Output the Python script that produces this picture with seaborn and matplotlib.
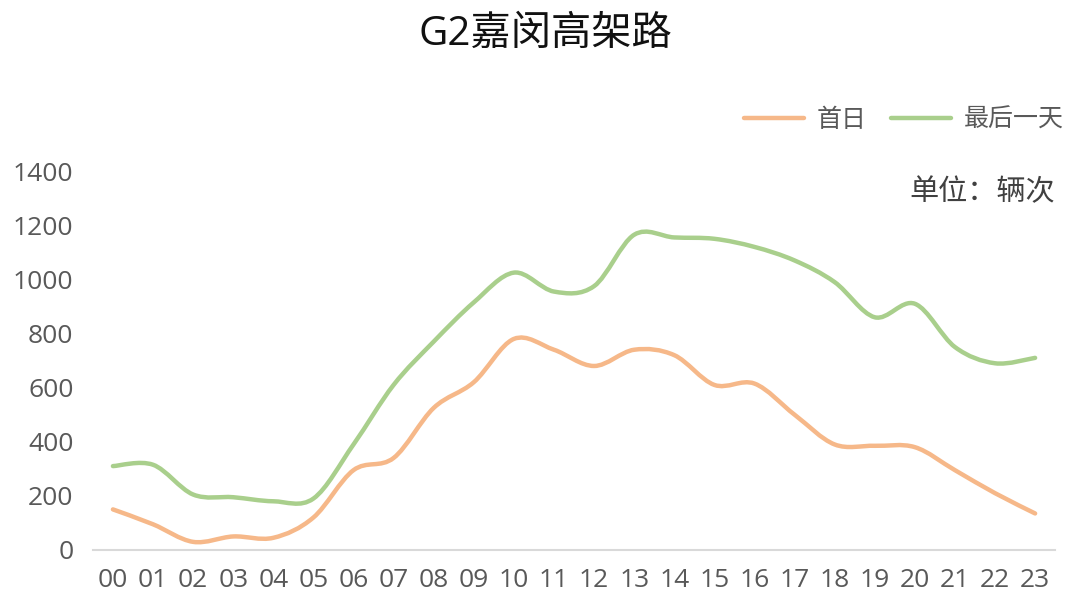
import numpy as np
import pandas as pd
import matplotlib
matplotlib.use("Agg")
import matplotlib.pyplot as plt
import seaborn as sns
from matplotlib.path import Path
from matplotlib.patches import PathPatch
from matplotlib.lines import Line2D

# Data (vehicles per hour)
hours = ["00", "01", "02", "03", "04", "05", "06", "07", "08", "09", "10", "11",
         "12", "13", "14", "15", "16", "17", "18", "19", "20", "21", "22", "23"]
first_day = [150, 95, 30, 50, 45, 120, 295, 340, 525, 620, 780, 740,
             680, 740, 720, 610, 615, 500, 390, 385, 380, 295, 210, 135]
last_day = [310, 315, 205, 195, 180, 190, 390, 610, 770, 915, 1025, 955,
            975, 1165, 1155, 1150, 1120, 1070, 990, 860, 910, 750, 690, 710]
series_names = ["首日", "最后一天"]
colors = ["#F6B889", "#A9CF8C"]

sns.set_theme(style="white")
plt.rcParams['font.family'] = ['Open Sans', 'Noto Sans CJK SC', 'DejaVu Sans']

df = pd.DataFrame({
    "x": list(range(len(hours))) * 2,
    "value": first_day + last_day,
    "series": [series_names[0]] * len(hours) + [series_names[1]] * len(hours),
})

fig = plt.figure(figsize=(10.8, 6.13), dpi=100)
ax = fig.add_axes([0.086, 0.1028, 0.891, 0.618])

# seaborn draws the series; the visible smoothed curves follow the same points
sns.lineplot(data=df, x="x", y="value", hue="series", palette=colors,
             ax=ax, legend=False, linewidth=3)
for line in ax.get_lines():
    line.set_visible(False)


def smooth_path(xs, ys, t=1 / 6):
    # Excel-like smoothed line: cubic Bezier through each point
    xs = np.asarray(xs, float)
    ys = np.asarray(ys, float)
    n = len(xs)
    verts = [(xs[0], ys[0])]
    codes = [Path.MOVETO]
    for i in range(n - 1):
        p0 = (xs[max(i - 1, 0)], ys[max(i - 1, 0)])
        p1 = (xs[i], ys[i])
        p2 = (xs[i + 1], ys[i + 1])
        p3 = (xs[min(i + 2, n - 1)], ys[min(i + 2, n - 1)])
        c1 = (p1[0] + (p2[0] - p0[0]) * t, p1[1] + (p2[1] - p0[1]) * t)
        c2 = (p2[0] - (p3[0] - p1[0]) * t, p2[1] - (p3[1] - p1[1]) * t)
        verts += [c1, c2, p2]
        codes += [Path.CURVE4] * 3
    return Path(verts, codes)


for name, col in zip(series_names, colors):
    sub = df[df["series"] == name]
    patch = PathPatch(smooth_path(sub["x"], sub["value"]), facecolor="none",
                      edgecolor=col, linewidth=3.2, capstyle="round",
                      joinstyle="round")
    ax.add_patch(patch)

ax.set_xlim(-0.5, 23.5)
ax.set_ylim(0, 1400)
ax.set_xticks(range(len(hours)))
ax.set_xticklabels(hours)
ax.set_yticks(range(0, 1401, 200))
ax.tick_params(axis="both", labelsize=19, labelcolor="#595959", length=0)
ax.tick_params(axis="x", pad=13)
ax.tick_params(axis="y", pad=14)
ax.set_xlabel("")
ax.set_ylabel("")
for side in ["left", "right", "top"]:
    ax.spines[side].set_visible(False)
ax.spines["bottom"].set_color("#D9D9D9")
ax.spines["bottom"].set_linewidth(1.5)

fig.suptitle("G2嘉闵高架路", x=0.505, y=0.977, fontsize=29, color="#111111",
             fontweight="medium")

handles = [Line2D([0], [0], color=c, lw=3.2) for c in colors]
fig.legend(handles, series_names, loc="center right", bbox_to_anchor=(0.985, 0.804),
           ncol=2, frameon=False, fontsize=18, handlelength=2.4,
           columnspacing=1.0, handletextpad=0.5, labelcolor="#595959",
           borderaxespad=0, borderpad=0)

fig.text(0.977, 0.685, "单位：辆次", ha="right", va="center", fontsize=21,
         color="#404040")

fig.savefig("out.png", dpi=100)
